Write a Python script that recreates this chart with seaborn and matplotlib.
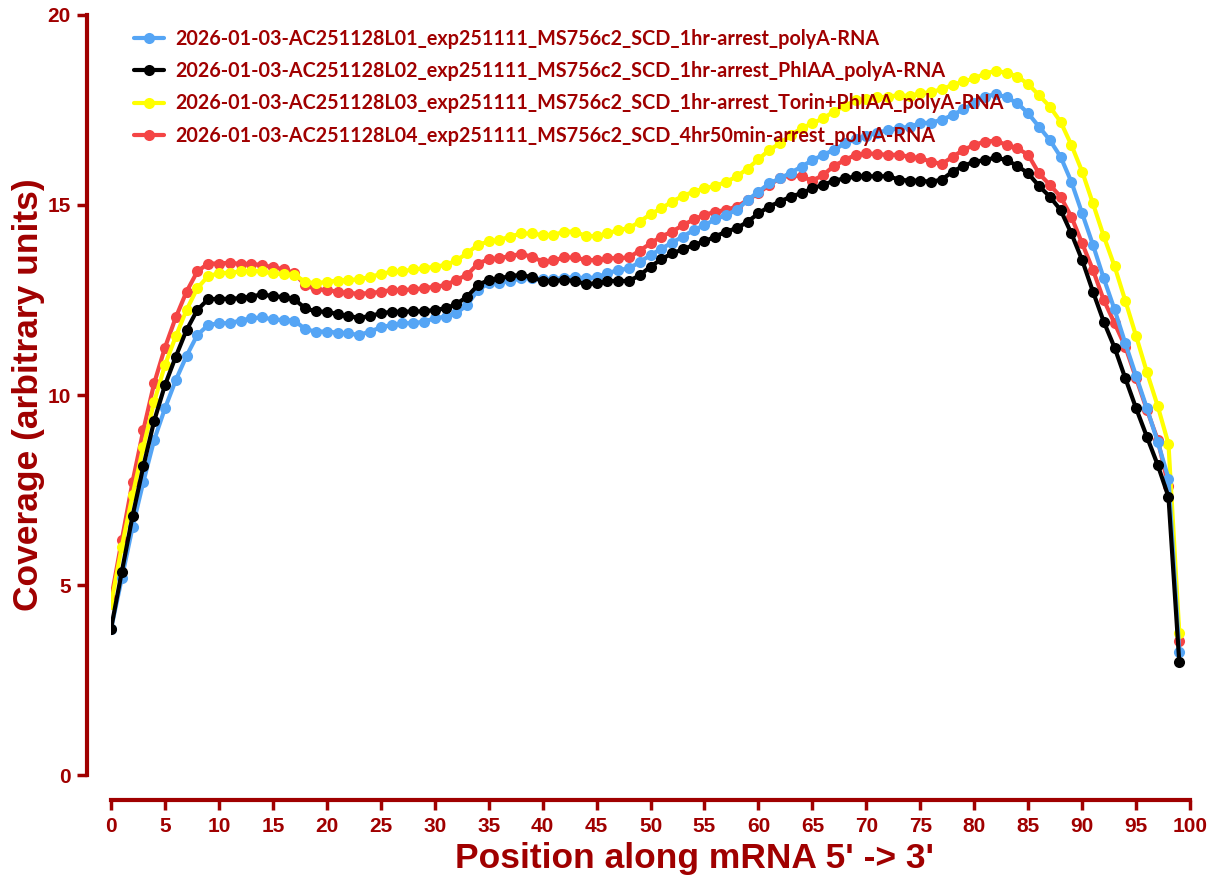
import matplotlib
matplotlib.use("Agg")
import matplotlib.pyplot as plt
import pandas as pd
import numpy as np
import seaborn as sns

# positions along the transcript (percentile bins)
position = list(range(100))

labels = [
    "2026-01-03-AC251128L01_exp251111_MS756c2_SCD_1hr-arrest_polyA-RNA",
    "2026-01-03-AC251128L02_exp251111_MS756c2_SCD_1hr-arrest_PhIAA_polyA-RNA",
    "2026-01-03-AC251128L03_exp251111_MS756c2_SCD_1hr-arrest_Torin+PhIAA_polyA-RNA",
    "2026-01-03-AC251128L04_exp251111_MS756c2_SCD_4hr50min-arrest_polyA-RNA",
]

l01 = [3.84, 5.18, 6.53, 7.72, 8.82, 9.65, 10.39, 11.03, 11.58, 11.84,
       11.89, 11.89, 11.96, 12.02, 12.04, 11.99, 11.97, 11.96, 11.73, 11.67,
       11.67, 11.64, 11.62, 11.58, 11.67, 11.78, 11.84, 11.89, 11.89, 11.93,
       12.02, 12.06, 12.15, 12.37, 12.76, 12.94, 12.96, 13.00, 13.07, 13.08,
       13.05, 13.05, 13.08, 13.10, 13.07, 13.10, 13.20, 13.29, 13.33, 13.50,
       13.68, 13.85, 14.01, 14.17, 14.34, 14.47, 14.62, 14.74, 14.87, 15.13,
       15.35, 15.57, 15.70, 15.85, 16.01, 16.18, 16.32, 16.45, 16.62, 16.73,
       16.82, 16.90, 16.97, 17.02, 17.06, 17.15, 17.17, 17.24, 17.37, 17.52,
       17.68, 17.85, 17.92, 17.83, 17.68, 17.41, 17.06, 16.71, 16.27, 15.61,
       14.78, 13.95, 13.07, 12.25, 11.36, 10.50, 9.65, 8.77, 7.80, 3.25]

l02 = [3.85, 5.35, 6.82, 8.13, 9.32, 10.26, 11.01, 11.71, 12.24, 12.52,
       12.53, 12.53, 12.55, 12.59, 12.65, 12.60, 12.58, 12.52, 12.28, 12.20,
       12.19, 12.13, 12.08, 12.03, 12.08, 12.15, 12.19, 12.19, 12.20, 12.20,
       12.24, 12.28, 12.39, 12.59, 12.89, 13.03, 13.07, 13.13, 13.16, 13.10,
       13.00, 13.00, 13.03, 13.00, 12.92, 12.94, 13.00, 13.00, 13.00, 13.15,
       13.38, 13.57, 13.73, 13.83, 13.95, 14.04, 14.17, 14.30, 14.39, 14.56,
       14.78, 14.96, 15.09, 15.22, 15.31, 15.44, 15.53, 15.64, 15.70, 15.75,
       15.76, 15.75, 15.76, 15.67, 15.64, 15.64, 15.61, 15.67, 15.88, 16.03,
       16.14, 16.18, 16.25, 16.18, 16.03, 15.83, 15.50, 15.22, 14.87, 14.25,
       13.55, 12.72, 11.93, 11.25, 10.44, 9.65, 8.90, 8.16, 7.32, 2.97]

l03 = [4.50, 6.01, 7.37, 8.64, 9.82, 10.79, 11.54, 12.24, 12.81, 13.13,
       13.20, 13.22, 13.25, 13.27, 13.25, 13.20, 13.18, 13.16, 12.98, 12.94,
       12.98, 13.01, 13.03, 13.04, 13.11, 13.18, 13.25, 13.25, 13.31, 13.33,
       13.38, 13.42, 13.54, 13.73, 13.95, 14.04, 14.08, 14.17, 14.25, 14.25,
       14.21, 14.21, 14.30, 14.30, 14.18, 14.18, 14.25, 14.34, 14.39, 14.56,
       14.76, 14.91, 15.09, 15.24, 15.35, 15.44, 15.50, 15.61, 15.75, 15.96,
       16.20, 16.45, 16.62, 16.84, 17.02, 17.15, 17.28, 17.46, 17.61, 17.75,
       17.78, 17.83, 17.85, 17.89, 17.87, 17.94, 17.97, 18.05, 18.16, 18.25,
       18.33, 18.46, 18.53, 18.48, 18.38, 18.18, 17.89, 17.59, 17.19, 16.58,
       15.88, 15.04, 14.18, 13.39, 12.48, 11.55, 10.60, 9.71, 8.71, 3.75]

l04 = [4.62, 6.18, 7.72, 9.08, 10.31, 11.25, 12.04, 12.72, 13.25, 13.46,
       13.46, 13.48, 13.45, 13.45, 13.42, 13.36, 13.31, 13.20, 12.89, 12.78,
       12.76, 12.72, 12.68, 12.67, 12.68, 12.72, 12.76, 12.76, 12.78, 12.81,
       12.85, 12.89, 13.03, 13.16, 13.46, 13.57, 13.60, 13.66, 13.71, 13.64,
       13.51, 13.54, 13.62, 13.62, 13.55, 13.55, 13.60, 13.60, 13.62, 13.80,
       13.99, 14.17, 14.30, 14.47, 14.62, 14.74, 14.82, 14.87, 14.96, 15.13,
       15.31, 15.53, 15.70, 15.79, 15.75, 15.64, 15.79, 16.03, 16.18, 16.32,
       16.36, 16.34, 16.32, 16.32, 16.27, 16.23, 16.14, 16.08, 16.27, 16.45,
       16.58, 16.67, 16.69, 16.58, 16.49, 16.32, 15.83, 15.53, 15.22, 14.69,
       13.99, 13.29, 12.50, 11.89, 11.27, 10.44, 9.61, 8.82, 7.60, 3.53]

colors = ["#55A5F5", "#000000", "#FFFF00", "#F44545"]
series = [l01, l02, l03, l04]
zorders = [3, 4, 2, 1]

df = pd.concat([pd.DataFrame({"Position": position, "Coverage": s, "Sample": lab})
                for s, lab in zip(series, labels)], ignore_index=True)

sns.set_style("white")
axis_red = "#A00000"

fig = plt.figure(figsize=(12.12, 8.77), dpi=100)
ax = fig.add_axes([0.0916, 0.1163, 0.8903, 0.8666])

for lab, col, z in zip(labels, colors, zorders):
    sub = df[df["Sample"] == lab]
    sns.lineplot(data=sub, x="Position", y="Coverage", ax=ax, color=col,
                 marker="o", markersize=8, markeredgewidth=0, linewidth=3.0,
                 label=lab, zorder=z, legend=False)

ax.set_xlim(0, 100)
ax.set_ylim(0, 20)
ax.set_xticks(range(0, 101, 5))
ax.set_yticks(range(0, 21, 5))

for side in ["top", "right"]:
    ax.spines[side].set_visible(False)
ax.spines["left"].set_position(("outward", 17))
ax.spines["bottom"].set_position(("outward", 18))
for side in ["left", "bottom"]:
    ax.spines[side].set_color(axis_red)
    ax.spines[side].set_linewidth(3)

ax.tick_params(axis="both", colors=axis_red, length=7, width=2.5, direction="out",
               labelsize=15, pad=5, bottom=True, left=True)
for t in ax.get_xticklabels() + ax.get_yticklabels():
    t.set_fontweight("bold")
    t.set_family(["Liberation Sans Narrow", "Liberation Sans"])
    t.set_color(axis_red)

ax.set_xlabel("Position along mRNA 5' -> 3'", fontsize=25.5, fontweight="bold",
              color=axis_red, family="Liberation Sans")
ax.set_ylabel("Coverage (arbitrary units)", fontsize=25.5, fontweight="bold",
              color=axis_red, family="Liberation Sans")
ax.xaxis.set_label_coords(0.541, -0.088)
ax.yaxis.set_label_coords(-0.061, 0.5)
ax.grid(False)

handles = [plt.Line2D([], [], color=c, marker="o", markersize=8, markeredgewidth=0,
                      linewidth=3.0) for c in colors]
leg = ax.legend(handles, labels, loc="upper left", bbox_to_anchor=(0.014, 0.992),
                frameon=False, handlelength=1.5, handletextpad=0.6, labelspacing=0.62,
                borderaxespad=0, prop={"family": "Lato", "weight": "bold", "size": 14.2})
for t in leg.get_texts():
    t.set_color(axis_red)

fig.savefig("out.png", dpi=100)
